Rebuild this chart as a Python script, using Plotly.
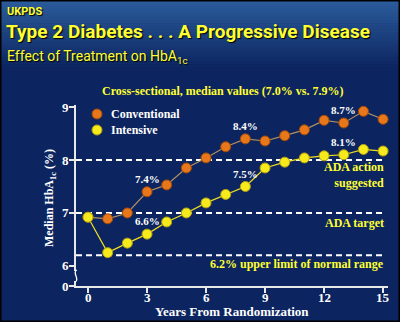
import plotly.graph_objects as go

# UKPDS median HbA1c by year from randomization
years = list(range(16))
conventional = [6.92, 6.89, 7.0, 7.4, 7.53, 7.85, 8.04, 8.25, 8.4, 8.36, 8.46, 8.57, 8.75, 8.7, 8.92, 8.77]
intensive = [6.92, 6.25, 6.43, 6.6, 6.83, 7.0, 7.19, 7.35, 7.5, 7.85, 7.96, 8.04, 8.08, 8.1, 8.2, 8.17]
series_names = ["Conventional", "Intensive"]

# value call-outs: (series, year)
callouts = [("Conventional", 3), ("Conventional", 8), ("Conventional", 13),
            ("Intensive", 3), ("Intensive", 8), ("Intensive", 13)]

# reference levels
ref_levels = [8.0, 7.0, 6.2]
ref_labels = ["ADA action<br>suggested", "ADA target", "6.2% upper limit of normal range"]

y_tickvals = [5.62, 6, 7, 8, 9]
y_ticktext = ["0", "6", "7", "8", "9"]
x_tickvals = [0, 3, 6, 9, 12, 15]

W, H = 400, 322
L, R, T, B = 76, 12, 105, 36
PW, PH = W - L - R, H - T - B

NAVY = "#0c2560"
YEL = "#ffff33"
ORANGE = "#e8761a"
YELLOW_MK = "#f7ea1c"
SERIF = "Liberation Serif, Times New Roman, serif"
SANS = "Roboto, Liberation Sans, sans-serif"
SHADOW = "1px 1px 1px #000000"
AXIS = "#e8e8e8"


def px(xp):
    return (xp - L) / PW


def py(yp):
    return (H - B - yp) / PH


fig = go.Figure()

vals = {"Conventional": conventional, "Intensive": intensive}
styles = {
    "Conventional": dict(line=dict(color="#b09060", width=1.2),
                         marker=dict(color=ORANGE, size=10, line=dict(color="#a04a08", width=1))),
    "Intensive": dict(line=dict(color="#f0e020", width=1.2),
                      marker=dict(color=YELLOW_MK, size=10, line=dict(color="#b0a010", width=1))),
}
for name in series_names:
    fig.add_trace(go.Scatter(x=years, y=vals[name], mode="lines+markers", name=name,
                             line=styles[name]["line"], marker=styles[name]["marker"],
                             cliponaxis=False))

shapes = []
# background: gradient band at the top over navy
n = 24
top = (44, 92, 156)
bot = (12, 37, 96)
for i in range(n):
    f = i / (n - 1)
    c = tuple(int(top[k] + (bot[k] - top[k]) * f) for k in range(3))
    y0 = i * 70 / n
    y1 = (i + 1) * 70 / n + 0.5
    shapes.append(dict(type="rect", xref="paper", yref="paper", layer="below",
                       x0=px(0), x1=px(W), y0=py(y1), y1=py(y0),
                       fillcolor="rgb(%d,%d,%d)" % c, line=dict(width=0)))

# dashed reference lines
for lv in ref_levels:
    shapes.append(dict(type="line", xref="paper", yref="y", x0=0, x1=px(386), y0=lv, y1=lv,
                       line=dict(color="white", width=2, dash="6px,4px"), layer="below"))

# axis break on the y axis
shapes.append(dict(type="rect", xref="paper", yref="paper", x0=px(73), x1=px(79),
                   y0=py(281), y1=py(271), fillcolor=NAVY, line=dict(width=0)))
shapes.append(dict(type="path", xref="paper", yref="paper", xsizemode="pixel", ysizemode="pixel",
                   xanchor=0, yanchor=py(276),
                   path="M -1,-6 Q 2,-5 0,0 Q -2,5 1,6",
                   line=dict(color="white", width=1.3)))

# outer border
shapes.append(dict(type="rect", xref="paper", yref="paper", x0=px(0.5), x1=px(W - 0.5),
                   y0=py(H - 0.5), y1=py(0.5), line=dict(color="black", width=2)))

ann = []
# titles
ann.append(dict(text="<b>UKPDS</b>", x=px(5), y=py(3), xanchor="left", yanchor="top",
                font=dict(family=SANS, size=11, color=YEL, shadow=SHADOW)))
ann.append(dict(text="<b>Type 2 Diabetes . . . A Progressive Disease</b>", x=px(4), y=py(18),
                xanchor="left", yanchor="top", font=dict(family=SANS, size=19, color=YEL, shadow=SHADOW)))
ann.append(dict(text="Effect of Treatment on HbA<sub>1c</sub>", x=px(5), y=py(46),
                xanchor="left", yanchor="top", font=dict(family=SANS, size=14, color=YEL, shadow=SHADOW)))
ann.append(dict(text="<b>Cross-sectional, median values (7.0% vs. 7.9%)</b>", x=px(222), y=py(91),
                xanchor="center", yanchor="middle", font=dict(family=SERIF, size=12, color=YEL)))

# axis titles
ann.append(dict(text="<b>Years From Randomization</b>", x=px(232), y=py(311), xanchor="center",
                yanchor="middle", font=dict(family=SERIF, size=13, color="white")))
ann.append(dict(text="<b>Median HbA<sub>1c</sub> (%)</b>", x=px(50), y=py(198), xanchor="center",
                yanchor="middle", textangle=-90, font=dict(family=SERIF, size=12, color="white")))

# tick labels
for t in x_tickvals:
    ann.append(dict(text="<b>%d</b>" % t, x=t, xref="x", y=py(297), xanchor="center", yanchor="middle",
                    font=dict(family=SERIF, size=13, color="white")))
for v, s in zip(y_tickvals, y_ticktext):
    ann.append(dict(text="<b>%s</b>" % s, x=px(71), y=v, yref="y", xanchor="right", yanchor="middle",
                    font=dict(family=SERIF, size=13, color="white")))

# legend drawn as markers + labels
for i, name in enumerate(series_names):
    yy = 114 + 16 * i
    ann.append(dict(text="<b>%s</b>" % name, x=px(109), y=py(yy), xanchor="left", yanchor="middle",
                    font=dict(family=SERIF, size=12, color="white")))
    fig.add_trace(go.Scatter(x=[px(97)], y=[py(yy)], xaxis="x2", yaxis="y2", mode="markers",
                             marker=styles[name]["marker"], showlegend=False, hoverinfo="skip"))

# value call-outs above marks
for name, yr in callouts:
    v = vals[name][yr]
    ann.append(dict(text="<b>%.1f%%</b>" % v, x=yr, y=v, xref="x", yref="y",
                    yshift=13, showarrow=False, font=dict(family=SERIF, size=11, color="white")))

# reference level labels
ref_pos = [(386, 175), (386, 223), (386, 264)]
for lab, (xx, yy) in zip(ref_labels, ref_pos):
    ann.append(dict(text="<b>%s</b>" % lab, x=px(xx), y=py(yy), xanchor="right", yanchor="middle",
                    align="right", font=dict(family=SERIF, size=12, color=YEL)))

for a in ann:
    a.setdefault("xref", "paper")
    a.setdefault("yref", "paper")
    a.setdefault("showarrow", False)

fig.update_layout(
    width=W, height=H,
    margin=dict(l=L, r=R, t=T, b=B, autoexpand=False),
    paper_bgcolor=NAVY, plot_bgcolor="rgba(0,0,0,0)",
    showlegend=False,
    shapes=shapes, annotations=ann,
    xaxis=dict(range=[-0.61, 15.25], tickvals=x_tickvals, showgrid=False, zeroline=False,
               automargin=False, showticklabels=False,
               showline=True, linecolor=AXIS, linewidth=2, ticks="outside", ticklen=5,
               tickcolor=AXIS, tickwidth=2),
    yaxis=dict(range=[5.62, 9.04], tickvals=y_tickvals, showgrid=False,
               automargin=False, showticklabels=False,
               zeroline=False, showline=True, linecolor=AXIS, linewidth=2, ticks="outside",
               ticklen=5, tickcolor=AXIS, tickwidth=2),
    xaxis2=dict(range=[0, 1], domain=[0, 1], overlaying="x", visible=False),
    yaxis2=dict(range=[0, 1], domain=[0, 1], overlaying="y", visible=False),
)

fig.write_html("out.html")
